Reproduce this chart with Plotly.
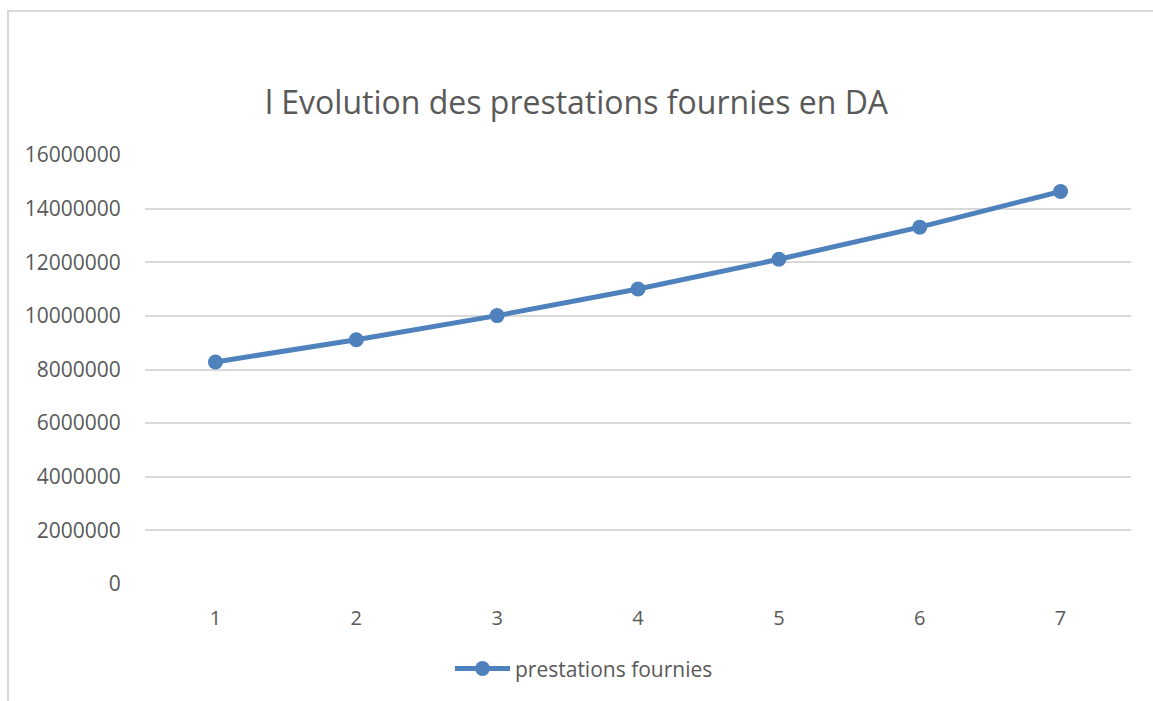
import plotly.graph_objects as go

categories = [1, 2, 3, 4, 5, 6, 7]
prestations = [8280000, 9110000, 10010000, 11000000, 12110000, 13310000, 14640000]
y_ticks = [0, 2000000, 4000000, 6000000, 8000000, 10000000, 12000000, 14000000, 16000000]

blue = "#4f81bd"
grey_txt = "#595959"
font_family = "Open Sans, Noto Sans, sans-serif"

fig = go.Figure()
fig.add_trace(go.Scatter(
    x=categories, y=prestations, mode="lines+markers",
    name="prestations fournies",
    line=dict(color=blue, width=5),
    marker=dict(color=blue, size=15),
))

fig.update_layout(
    width=1153, height=701,
    margin=dict(l=145, r=22, t=155, b=114),
    paper_bgcolor="white", plot_bgcolor="white",
    title=dict(text="l Evolution des prestations fournies en DA",
               x=0.5, xanchor="center", y=1 - 103 / 701, yanchor="middle",
               font=dict(family=font_family, size=32, color=grey_txt)),
    font=dict(family=font_family, size=20, color=grey_txt),
    showlegend=True,
    legend=dict(orientation="h", x=(584 - 145) / 986, xanchor="center", y=-0.15, yanchor="top",
                font=dict(size=21, color=grey_txt), itemwidth=55),
    xaxis=dict(range=[0.5, 7.5], tickvals=categories, ticktext=[str(c) for c in categories],
               showgrid=False, zeroline=False, showline=False,
               ticks="outside", ticklen=16, tickcolor="rgba(0,0,0,0)",
               tickfont=dict(size=20, color=grey_txt)),
    yaxis=dict(range=[0, 16000000], tickvals=y_ticks, ticktext=[str(v) for v in y_ticks],
               showgrid=True, gridcolor="#d9d9d9", gridwidth=1.5,
               zeroline=False, showline=False,
               ticks="outside", ticklen=19, tickcolor="rgba(0,0,0,0)",
               tickfont=dict(size=21, color=grey_txt)),
    shapes=[dict(type="rect", xref="paper", yref="paper",
                 x0=(8 - 145) / 986, x1=1.2, y0=-0.5, y1=(587 - 10) / 432,
                 line=dict(color="#d9d9d9", width=2), fillcolor="rgba(0,0,0,0)", layer="below")],
)

fig.write_html("out.html", config={"displayModeBar": False},
               post_script="document.body.style.margin='0';")
